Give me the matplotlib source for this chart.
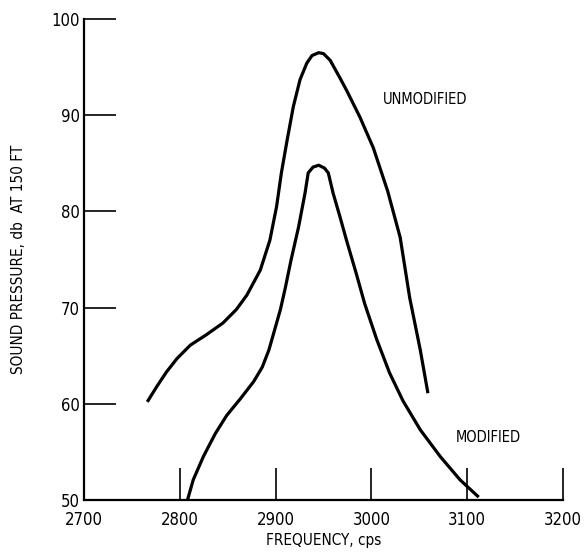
import matplotlib.pyplot as plt

# values
unmod_freq = [2766, 2776, 2786, 2797, 2811, 2828, 2845, 2859, 2870, 2884, 2894, 2901,
              2906, 2912, 2918.5, 2925.5, 2932.5, 2938, 2945, 2950, 2957, 2962, 2967,
              2974, 2988, 3002, 3017, 3030, 3040, 3051, 3059]
unmod_db = [60.2, 61.8, 63.3, 64.7, 66.1, 67.2, 68.4, 69.8, 71.3, 73.9, 77.0, 80.5,
            84.0, 87.4, 90.9, 93.7, 95.4, 96.2, 96.5, 96.4, 95.7, 94.8, 93.9,
            92.6, 89.8, 86.6, 82.1, 77.3, 71.0, 65.6, 61.1]

mod_freq = [2808, 2814, 2824.5, 2837, 2849, 2863, 2877, 2886, 2893, 2899, 2905, 2910,
            2916, 2924, 2930.7, 2934, 2939, 2945, 2951, 2955, 2960, 2967, 2974, 2984,
            2993, 3005.5, 3019, 3033, 3051, 3072, 3092.5, 3112]
mod_db = [50.0, 52.1, 54.5, 56.9, 58.8, 60.5, 62.3, 63.8, 65.6, 67.7, 69.8, 72.0,
          74.9, 78.4, 81.9, 84.0, 84.6, 84.8, 84.5, 84.0, 81.9, 79.5, 77.0, 73.6,
          70.4, 66.7, 63.2, 60.3, 57.3, 54.5, 52.1, 50.3]

xticks = [2700, 2800, 2900, 3000, 3100, 3200]
yticks = [50, 60, 70, 80, 90, 100]

font = dict(family='DejaVu Sans', stretch='condensed')

fig = plt.figure(figsize=(5.88, 5.57), dpi=100)
ax = fig.add_axes([0.1429, 0.1023, 0.8146, 0.8636])

ax.plot(unmod_freq, unmod_db, color='black', lw=2.3, solid_capstyle='butt',
        solid_joinstyle='round')
ax.plot(mod_freq, mod_db, color='black', lw=2.3, solid_capstyle='butt',
        solid_joinstyle='round')

ax.text(3012, 91.6, 'UNMODIFIED', fontsize=10.5, va='center', ha='left', **font)
ax.text(3088, 56.5, 'MODIFIED', fontsize=10.5, va='center', ha='left', **font)

ax.set_xlim(2700, 3200)
ax.set_ylim(50, 100)
ax.set_xticks(xticks)
ax.set_yticks(yticks)
ax.set_xticklabels([str(t) for t in xticks], fontsize=12, **font)
ax.set_yticklabels([str(t) for t in yticks], fontsize=12, **font)
ax.tick_params(axis='both', direction='in', length=23, width=1.2, colors='black')
ax.tick_params(axis='x', pad=8)
ax.tick_params(axis='y', pad=3)
for lab in ax.get_yticklabels():
    lab.set_verticalalignment('center_baseline')

for s in ['top', 'right']:
    ax.spines[s].set_visible(False)
for s in ['left', 'bottom']:
    ax.spines[s].set_linewidth(1.6)

ax.set_xlabel('FREQUENCY, cps', fontsize=11, labelpad=3, **font)
ax.set_ylabel('SOUND PRESSURE, db  AT 150 FT', fontsize=11, labelpad=18, **font)

fig.savefig('out.png', dpi=100)
